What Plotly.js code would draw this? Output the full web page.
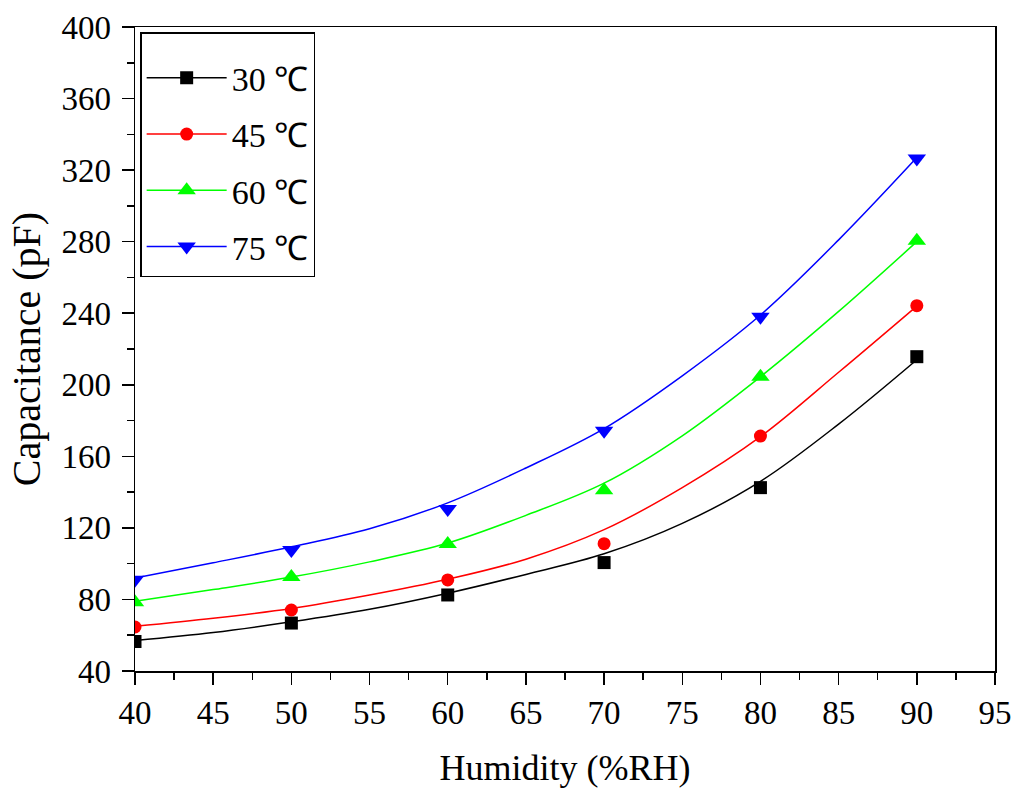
<!DOCTYPE html>
<html>
<head>
<meta charset="utf-8">
<script src="https://cdn.plot.ly/plotly-3.0.1.min.js"></script>
<style>body{margin:0;background:#fff}#chart{width:1024px;height:798px}</style>
</head>
<body>
<div id="chart"></div>
<script>
// measured points
var humidity = [40, 50, 60, 70, 80, 90];
var cap30 = [56.5, 66.8, 82.5, 100.6, 142.5, 215.7];
var cap45 = [64.6, 74.1, 90.9, 111.2, 171.3, 244.2];
var cap60 = [78.5, 92.5, 111, 141.1, 204.5, 280.5];
var cap75 = [91, 107.7, 130.5, 174.3, 238, 326.5];

// fitted curves
var fitX = [40, 45, 50, 55, 60, 65, 70, 75, 80, 85, 90];
var fit30 = [57, 61.5, 67.5, 74.5, 83.5, 94, 105.5, 122.5, 146, 178, 214];
var fit45 = [65, 69.5, 75, 82.5, 91.3, 102.5, 119, 142.5, 171, 207, 244];
var fit60 = [79, 85.5, 92.5, 101, 111.5, 127, 145, 171.5, 204.5, 241, 280];
var fit75 = [92, 100.5, 109.4, 119.5, 134, 153.5, 175.5, 205, 239, 281, 327];

var names = ['30 \u2103', '45 \u2103', '60 \u2103', '75 \u2103'];
var colors = ['#000000', '#ff0000', '#00ff00', '#0000ff'];
var symbols = ['square', 'circle', 'triangle-up', 'triangle-down'];
var sizes = [13, 13, 16, 16];

var measured = [cap30, cap45, cap60, cap75];
var fits = [fit30, fit45, fit60, fit75];

// put a gap between points so no line joins the markers
function gapped(arr) {
  var out = [];
  arr.forEach(function (v, i) { if (i) out.push(null); out.push(v); });
  return out;
}

var data = [];
for (var i = 0; i < 4; i++) {
  data.push({
    x: fitX, y: fits[i], mode: 'lines', type: 'scatter',
    line: {color: colors[i], width: 1.5, shape: 'spline', smoothing: 1},
    showlegend: false, legendgroup: 'g' + i, hoverinfo: 'none'
  });
  data.push({
    x: gapped(humidity), y: gapped(measured[i]), mode: 'lines+markers', type: 'scatter',
    name: names[i], legendgroup: 'g' + i, connectgaps: false,
    line: {color: colors[i], width: 1.5},
    marker: {symbol: symbols[i], color: colors[i], size: sizes[i]},
    hoverinfo: 'none'
  });
}

var serif = '"Liberation Serif", "Times New Roman", serif';
var tickFont = {family: serif, size: 33, color: '#000'};

var layout = {
  width: 1024, height: 798,
  margin: {l: 135, r: 29, t: 27, b: 127},
  paper_bgcolor: '#fff', plot_bgcolor: '#fff',
  font: {family: serif, color: '#000'},
  showlegend: true,
  legend: {
    x: 0.006, y: 0.992, xanchor: 'left', yanchor: 'top',
    bordercolor: '#000', borderwidth: 1.5, bgcolor: '#fff',
    font: {family: serif, size: 34, color: '#000'},
    title: {text: ' ', font: {size: 12}},
    itemwidth: 80, tracegroupgap: 9
  },
  xaxis: {
    range: [40, 95], dtick: 5, tick0: 40,
    ticks: 'outside', ticklen: 12, tickwidth: 1.5, tickcolor: '#000',
    minor: {dtick: 2.5, ticks: 'outside', ticklen: 7, tickwidth: 1.5, tickcolor: '#000'},
    showline: true, linecolor: '#000', linewidth: 1.5, mirror: true,
    showgrid: false, zeroline: false,
    tickfont: tickFont,
    title: {text: 'Humidity (%RH)', font: {family: serif, size: 36}, standoff: 24}
  },
  yaxis: {
    range: [40, 400], dtick: 40, tick0: 40,
    ticks: 'outside', ticklen: 12, tickwidth: 1.5, tickcolor: '#000',
    minor: {dtick: 20, ticks: 'outside', ticklen: 7, tickwidth: 1.5, tickcolor: '#000'},
    showline: true, linecolor: '#000', linewidth: 1.5, mirror: true,
    showgrid: false, zeroline: false,
    tickfont: tickFont, ticklabelstandoff: 4,
    title: {text: 'Capacitance (pF)', font: {family: serif, size: 40}, standoff: 8}
  }
};

Plotly.newPlot('chart', data, layout, {staticPlot: true, displayModeBar: false});
</script>
</body>
</html>
